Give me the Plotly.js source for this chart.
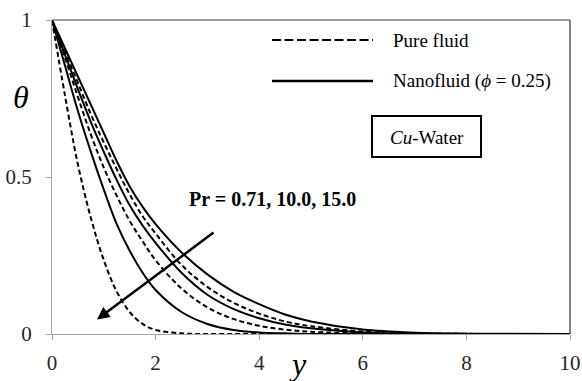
<!DOCTYPE html>
<html>
<head>
<meta charset="utf-8">
<script src="https://cdn.plot.ly/plotly-3.0.1.min.js"></script>
<style>
html,body{margin:0;padding:0;background:#fff;}
#chart{width:582px;height:381px;}
</style>
</head>
<body>
<div id="chart"></div>
<script>
// y (similarity variable) grid
const yGrid = [0, 0.25, 0.5, 0.75, 1, 1.25, 1.5, 1.75, 2, 2.5, 3, 3.5, 4, 4.5, 5, 6, 7, 8, 10];

// Pure fluid (dashed), Pr = 15.0, 10.0, 0.71
const pure15  = [1, 0.76, 0.54, 0.37, 0.235, 0.135, 0.07, 0.032, 0.013, 0.002, 0, 0, 0, 0, 0, 0, 0, 0, 0];
const pure10  = [1, 0.88, 0.755, 0.635, 0.53, 0.44, 0.36, 0.295, 0.235, 0.145, 0.085, 0.048, 0.026, 0.014, 0.007, 0.002, 0, 0, 0];
const pure071 = [1, 0.90, 0.80, 0.70, 0.61, 0.525, 0.445, 0.375, 0.32, 0.22, 0.15, 0.10, 0.065, 0.04, 0.025, 0.008, 0.002, 0.0005, 0];

// Nanofluid phi = 0.25 (solid), Pr = 15.0, 10.0, 0.71
const nano15  = [1, 0.855, 0.71, 0.58, 0.46, 0.35, 0.265, 0.195, 0.14, 0.07, 0.032, 0.013, 0.005, 0.002, 0, 0, 0, 0, 0];
const nano10  = [1, 0.89, 0.78, 0.675, 0.58, 0.49, 0.41, 0.345, 0.29, 0.195, 0.125, 0.08, 0.05, 0.03, 0.018, 0.005, 0.001, 0, 0];
const nano071 = [1, 0.91, 0.82, 0.73, 0.64, 0.55, 0.47, 0.405, 0.35, 0.26, 0.19, 0.135, 0.095, 0.062, 0.04, 0.014, 0.004, 0.001, 0];

const xTicks = [0, 2, 4, 6, 8, 10];
const yTicks = [0, 0.5, 1];
const yTickText = ['0', '0.5', '1'];

const serif = 'Liberation Serif';

function dashed(vals){
  return {x: yGrid, y: vals, mode: 'lines', showlegend: false, hoverinfo: 'skip',
    line: {color: '#000', width: 2, dash: '5px,3px', shape: 'spline', smoothing: 1}};
}
function solid(vals){
  return {x: yGrid, y: vals, mode: 'lines', showlegend: false, hoverinfo: 'skip',
    line: {color: '#000', width: 2, shape: 'spline', smoothing: 1}};
}

const traces = [dashed(pure15), dashed(pure10), dashed(pure071),
                solid(nano15), solid(nano10), solid(nano071)];

// plot area in pixels: left 52, right 570, top 20, bottom 334
const L = 52, R = 570, T = 20, B = 334;
const px = v => (v - L) / (R - L);
const py = v => (B - v) / (B - T);

const tickFont = {family: serif, size: 21, color: '#262626'};

const layout = {
  width: 582, height: 381,
  margin: {l: L, r: 582 - R, t: T, b: 381 - B, pad: 0},
  paper_bgcolor: '#fff', plot_bgcolor: '#fff',
  showlegend: false,
  font: {family: serif, color: '#000', size: 19},
  xaxis: {
    range: [0, 10], tickvals: xTicks, ticktext: xTicks.map(String),
    showgrid: false, zeroline: false, showline: true, linecolor: '#a6a6a6', linewidth: 1,
    ticks: 'outside', ticklen: 5, tickcolor: '#a6a6a6', tickwidth: 1,
    ticklabelstandoff: 5,
    tickfont: tickFont, fixedrange: true
  },
  yaxis: {
    range: [0, 1], tickvals: yTicks, ticktext: yTickText,
    showgrid: false, zeroline: false, showline: true, linecolor: '#a6a6a6', linewidth: 1,
    ticks: 'outside', ticklen: 5, tickcolor: '#a6a6a6', tickwidth: 1,
    ticklabelstandoff: 10,
    tickfont: tickFont, fixedrange: true
  },
  shapes: [
    // top and right frame
    {type: 'line', xref: 'paper', yref: 'paper', x0: 0, x1: 1, y0: 1, y1: 1, line: {color: '#7f7f7f', width: 1.5}},
    {type: 'line', xref: 'paper', yref: 'paper', x0: 1, x1: 1, y0: 0, y1: 1, line: {color: '#595959', width: 1.5}},
    // legend samples
    {type: 'line', xref: 'paper', yref: 'paper', x0: px(272), x1: px(373), y0: py(40), y1: py(40),
      line: {color: '#000', width: 2, dash: '9px,3.5px'}},
    {type: 'line', xref: 'paper', yref: 'paper', x0: px(272), x1: px(373), y0: py(81), y1: py(81),
      line: {color: '#000', width: 2.5}},
    // Cu-Water box
    {type: 'rect', xref: 'paper', yref: 'paper', x0: px(372), x1: px(481), y0: py(157), y1: py(116),
      line: {color: '#000', width: 2}, fillcolor: 'rgba(0,0,0,0)'}
  ],
  annotations: [
    {xref: 'paper', yref: 'paper', x: px(391), y: py(40), xanchor: 'left', yanchor: 'middle', showarrow: false,
      text: 'Pure fluid', font: {family: serif, size: 19, color: '#000'}},
    {xref: 'paper', yref: 'paper', x: px(391), y: py(81), xanchor: 'left', yanchor: 'middle', showarrow: false,
      text: 'Nanofluid (<i>ϕ</i> = 0.25)', font: {family: serif, size: 19, color: '#000'}},
    {xref: 'paper', yref: 'paper', x: px(427), y: py(137), xanchor: 'center', yanchor: 'middle', showarrow: false,
      text: '<i>Cu</i>-Water', font: {family: serif, size: 19, color: '#000'}},
    {xref: 'paper', yref: 'paper', x: px(272), y: py(199), xanchor: 'center', yanchor: 'middle', showarrow: false,
      text: '<b>Pr = 0.71, 10.0, 15.0</b>', font: {family: serif, size: 20, color: '#000'}},
    // arrow
    {xref: 'paper', yref: 'paper', x: px(97), y: py(319.5), axref: 'pixel', ayref: 'pixel',
      ax: 118, ay: -88, showarrow: true, arrowhead: 2, arrowsize: 1, arrowwidth: 2.5, arrowcolor: '#000', text: ''},
    // axis titles
    {xref: 'paper', yref: 'paper', x: px(21), y: py(97), xanchor: 'center', yanchor: 'middle', showarrow: false,
      text: '<i>θ</i>', font: {family: serif, size: 32, color: '#000'}},
    {xref: 'paper', yref: 'paper', x: px(298), y: py(364), xanchor: 'center', yanchor: 'middle', showarrow: false,
      text: '<i>y</i>', font: {family: serif, size: 32, color: '#000'}}
  ]
};

Plotly.newPlot('chart', traces, layout, {staticPlot: true, displayModeBar: false});
</script>
</body>
</html>
